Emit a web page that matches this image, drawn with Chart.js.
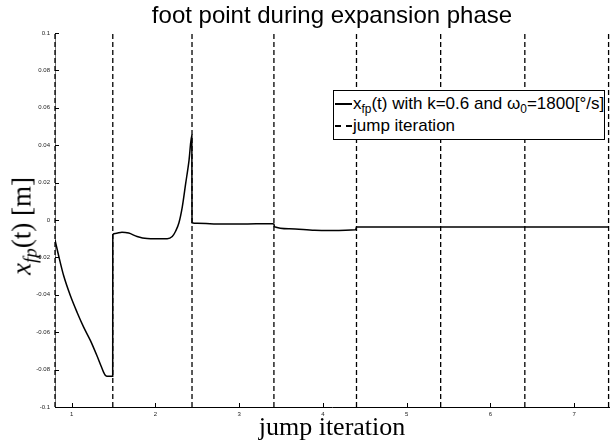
<!DOCTYPE html>
<html>
<head>
<meta charset="utf-8">
<script src="https://cdn.jsdelivr.net/npm/chart.js@4.4.0/dist/chart.umd.min.js"></script>
<style>
html,body{margin:0;padding:0;background:#fff;}
#wrap{position:relative;width:610px;height:445px;overflow:hidden;background:#fff;}
#c{position:absolute;left:0;top:0;}
#title{position:absolute;left:55px;width:554px;top:3px;text-align:center;font-family:"Liberation Sans",Arial,sans-serif;font-size:24px;line-height:24px;color:#000;white-space:nowrap;}
#ylab{position:absolute;left:22px;top:226px;transform:translate(-50%,-50%) rotate(-90deg);font-family:"Liberation Serif",serif;font-size:27px;line-height:27px;color:#000;white-space:nowrap;}
#ylab sub{font-size:70%;vertical-align:-0.3em;line-height:0;}
#legend{position:absolute;left:333px;top:90px;width:270px;height:48px;border:1px solid #000;background:#fff;font-family:"Liberation Sans",Arial,sans-serif;font-size:17px;color:#000;}
.row{position:absolute;left:1px;height:21px;line-height:21px;white-space:nowrap;}
.row sub{font-size:70%;vertical-align:-0.35em;line-height:0;}
.sample{display:inline-block;width:17px;height:0;vertical-align:middle;margin-right:1px;position:relative;top:-1px;}
</style>
</head>
<body>
<div id="wrap">
  <canvas id="c" width="610" height="445"></canvas>
  <div id="title"></div>
  <div id="ylab"><i>x</i><sub><i>fp</i></sub>(t) [m]</div>
  <div id="legend"></div>
</div>
<script>
// ---- data ----
const chartTitle = 'foot point during expansion phase';
const xAxisTitle = 'jump iteration';
const seriesNames = ['x<sub>fp</sub>(t) with k=0.6 and \u03c9<sub>0</sub>=1800[\u00b0/s]', 'jump iteration'];

const curveX = [0.80, 0.843, 0.903, 0.983, 1.063, 1.142, 1.222, 1.30, 1.35, 1.381, 1.40, 1.42, 1.46, 1.489,
                1.490, 1.52, 1.60, 1.68, 1.78, 1.90, 2.00, 2.14, 2.20, 2.24, 2.28, 2.32, 2.36, 2.40, 2.434,
                2.436, 2.5, 2.8, 3.1, 3.40, 3.414,
                3.42, 3.6, 3.9, 4.1, 4.39,
                4.40, 5.0, 5.405, 6.41, 7.415];
const curveY = [-0.0107, -0.019, -0.0297, -0.0404, -0.0493, -0.0573, -0.0644, -0.0725, -0.0781, -0.0815, -0.0830, -0.0835, -0.0836, -0.0836,
                -0.0078, -0.0072, -0.0065, -0.0070, -0.0088, -0.0099, -0.0100, -0.0100, -0.0088, -0.0060, -0.0015, 0.0070, 0.0194, 0.0318, 0.0455,
                -0.0015, -0.0018, -0.0022, -0.0021, -0.0020, -0.0022,
                -0.0036, -0.0047, -0.0055, -0.0056, -0.0052,
                -0.0037, -0.0037, -0.0037, -0.0038, -0.0038];
const jumpX = [0.80, 1.49, 2.436, 3.414, 4.40, 5.405, 6.41, 7.41];
const xTicks = [1, 2, 3, 4, 5, 6, 7];
const xTickLabels = ['1', '2', '3', '4', '5', '6', '7'];
const yTicks = [-0.1, -0.08, -0.06, -0.04, -0.02, 0, 0.02, 0.04, 0.06, 0.08, 0.1];
const yTickLabels = ['-0.1', '-0.08', '-0.06', '-0.04', '-0.02', '0', '0.02', '0.04', '0.06', '0.08', '0.1'];
const X_MIN = 0.80, X_MAX = 7.415, Y_MIN = -0.1, Y_MAX = 0.1;

// ---- html text ----
document.getElementById('title').textContent = chartTitle;
document.getElementById('legend').innerHTML =
  '<div class="row" style="top:2px"><span class="sample" style="border-top:2px solid #000"></span>' + seriesNames[0] + '</div>' +
  '<div class="row" style="top:24px"><span class="sample" style="border-top:2px dashed #000"></span>' + seriesNames[1] + '</div>';

// ---- plugin: inward tick marks ----
const inwardTicks = {
  id: 'inwardTicks',
  afterDatasetsDraw(chart) {
    const {ctx, chartArea: a, scales: {x, y}} = chart;
    ctx.save();
    ctx.strokeStyle = '#000';
    ctx.lineWidth = 1;
    ctx.beginPath();
    x.ticks.forEach(t => {
      const px = Math.round(x.getPixelForValue(t.value)) + 0.5;
      ctx.moveTo(px, a.bottom); ctx.lineTo(px, a.bottom - 4);
    });
    y.ticks.forEach(t => {
      const py = Math.round(y.getPixelForValue(t.value)) + 0.5;
      ctx.moveTo(a.left, py); ctx.lineTo(a.left + 4, py);
    });
    ctx.stroke();
    ctx.restore();
  }
};

const datasets = [{
  label: 'curve',
  data: curveX.map((x, i) => ({x: x, y: curveY[i]})),
  showLine: true,
  borderColor: '#000',
  borderWidth: 1.5,
  pointRadius: 0,
  cubicInterpolationMode: 'monotone',
  order: 0
}];
jumpX.forEach(xv => {
  datasets.push({
    label: 'jump',
    data: [{x: xv, y: Y_MIN}, {x: xv, y: Y_MAX}],
    showLine: true,
    borderColor: '#000',
    borderWidth: 1.3,
    borderDash: [5, 3],
    pointRadius: 0,
    clip: 3,
    order: 1
  });
});

new Chart(document.getElementById('c'), {
  type: 'scatter',
  data: {datasets: datasets},
  plugins: [inwardTicks],
  options: {
    responsive: false,
    animation: false,
    devicePixelRatio: 1,
    layout: {padding: {top: 33, right: 1, bottom: 0, left: 0}},
    plugins: {legend: {display: false}, tooltip: {enabled: false}, title: {display: false}},
    scales: {
      x: {
        type: 'linear', min: X_MIN, max: X_MAX,
        afterBuildTicks: s => { s.ticks = xTicks.map(v => ({value: v})); },
        afterFit: s => { s.height = 38; },
        ticks: {callback: (v, i) => xTickLabels[i], font: {family: 'Liberation Sans', size: 6}, color: '#222', padding: 4, maxRotation: 0, autoSkip: false},
        grid: {display: false, drawTicks: false},
        border: {display: true, color: '#000', width: 1},
        title: {display: true, text: xAxisTitle, font: {family: 'Liberation Serif', size: 26}, color: '#000', padding: {top: 0, bottom: 1}}
      },
      y: {
        type: 'linear', min: Y_MIN, max: Y_MAX,
        afterBuildTicks: s => { s.ticks = yTicks.map(v => ({value: v})); },
        afterFit: s => { s.width = 55; },
        ticks: {callback: (v, i) => yTickLabels[i], font: {family: 'Liberation Sans', size: 6}, color: '#222', padding: 5, autoSkip: false},
        grid: {display: false, drawTicks: false},
        border: {display: true, color: '#777', width: 1}
      }
    }
  }
});
</script>
</body>
</html>
